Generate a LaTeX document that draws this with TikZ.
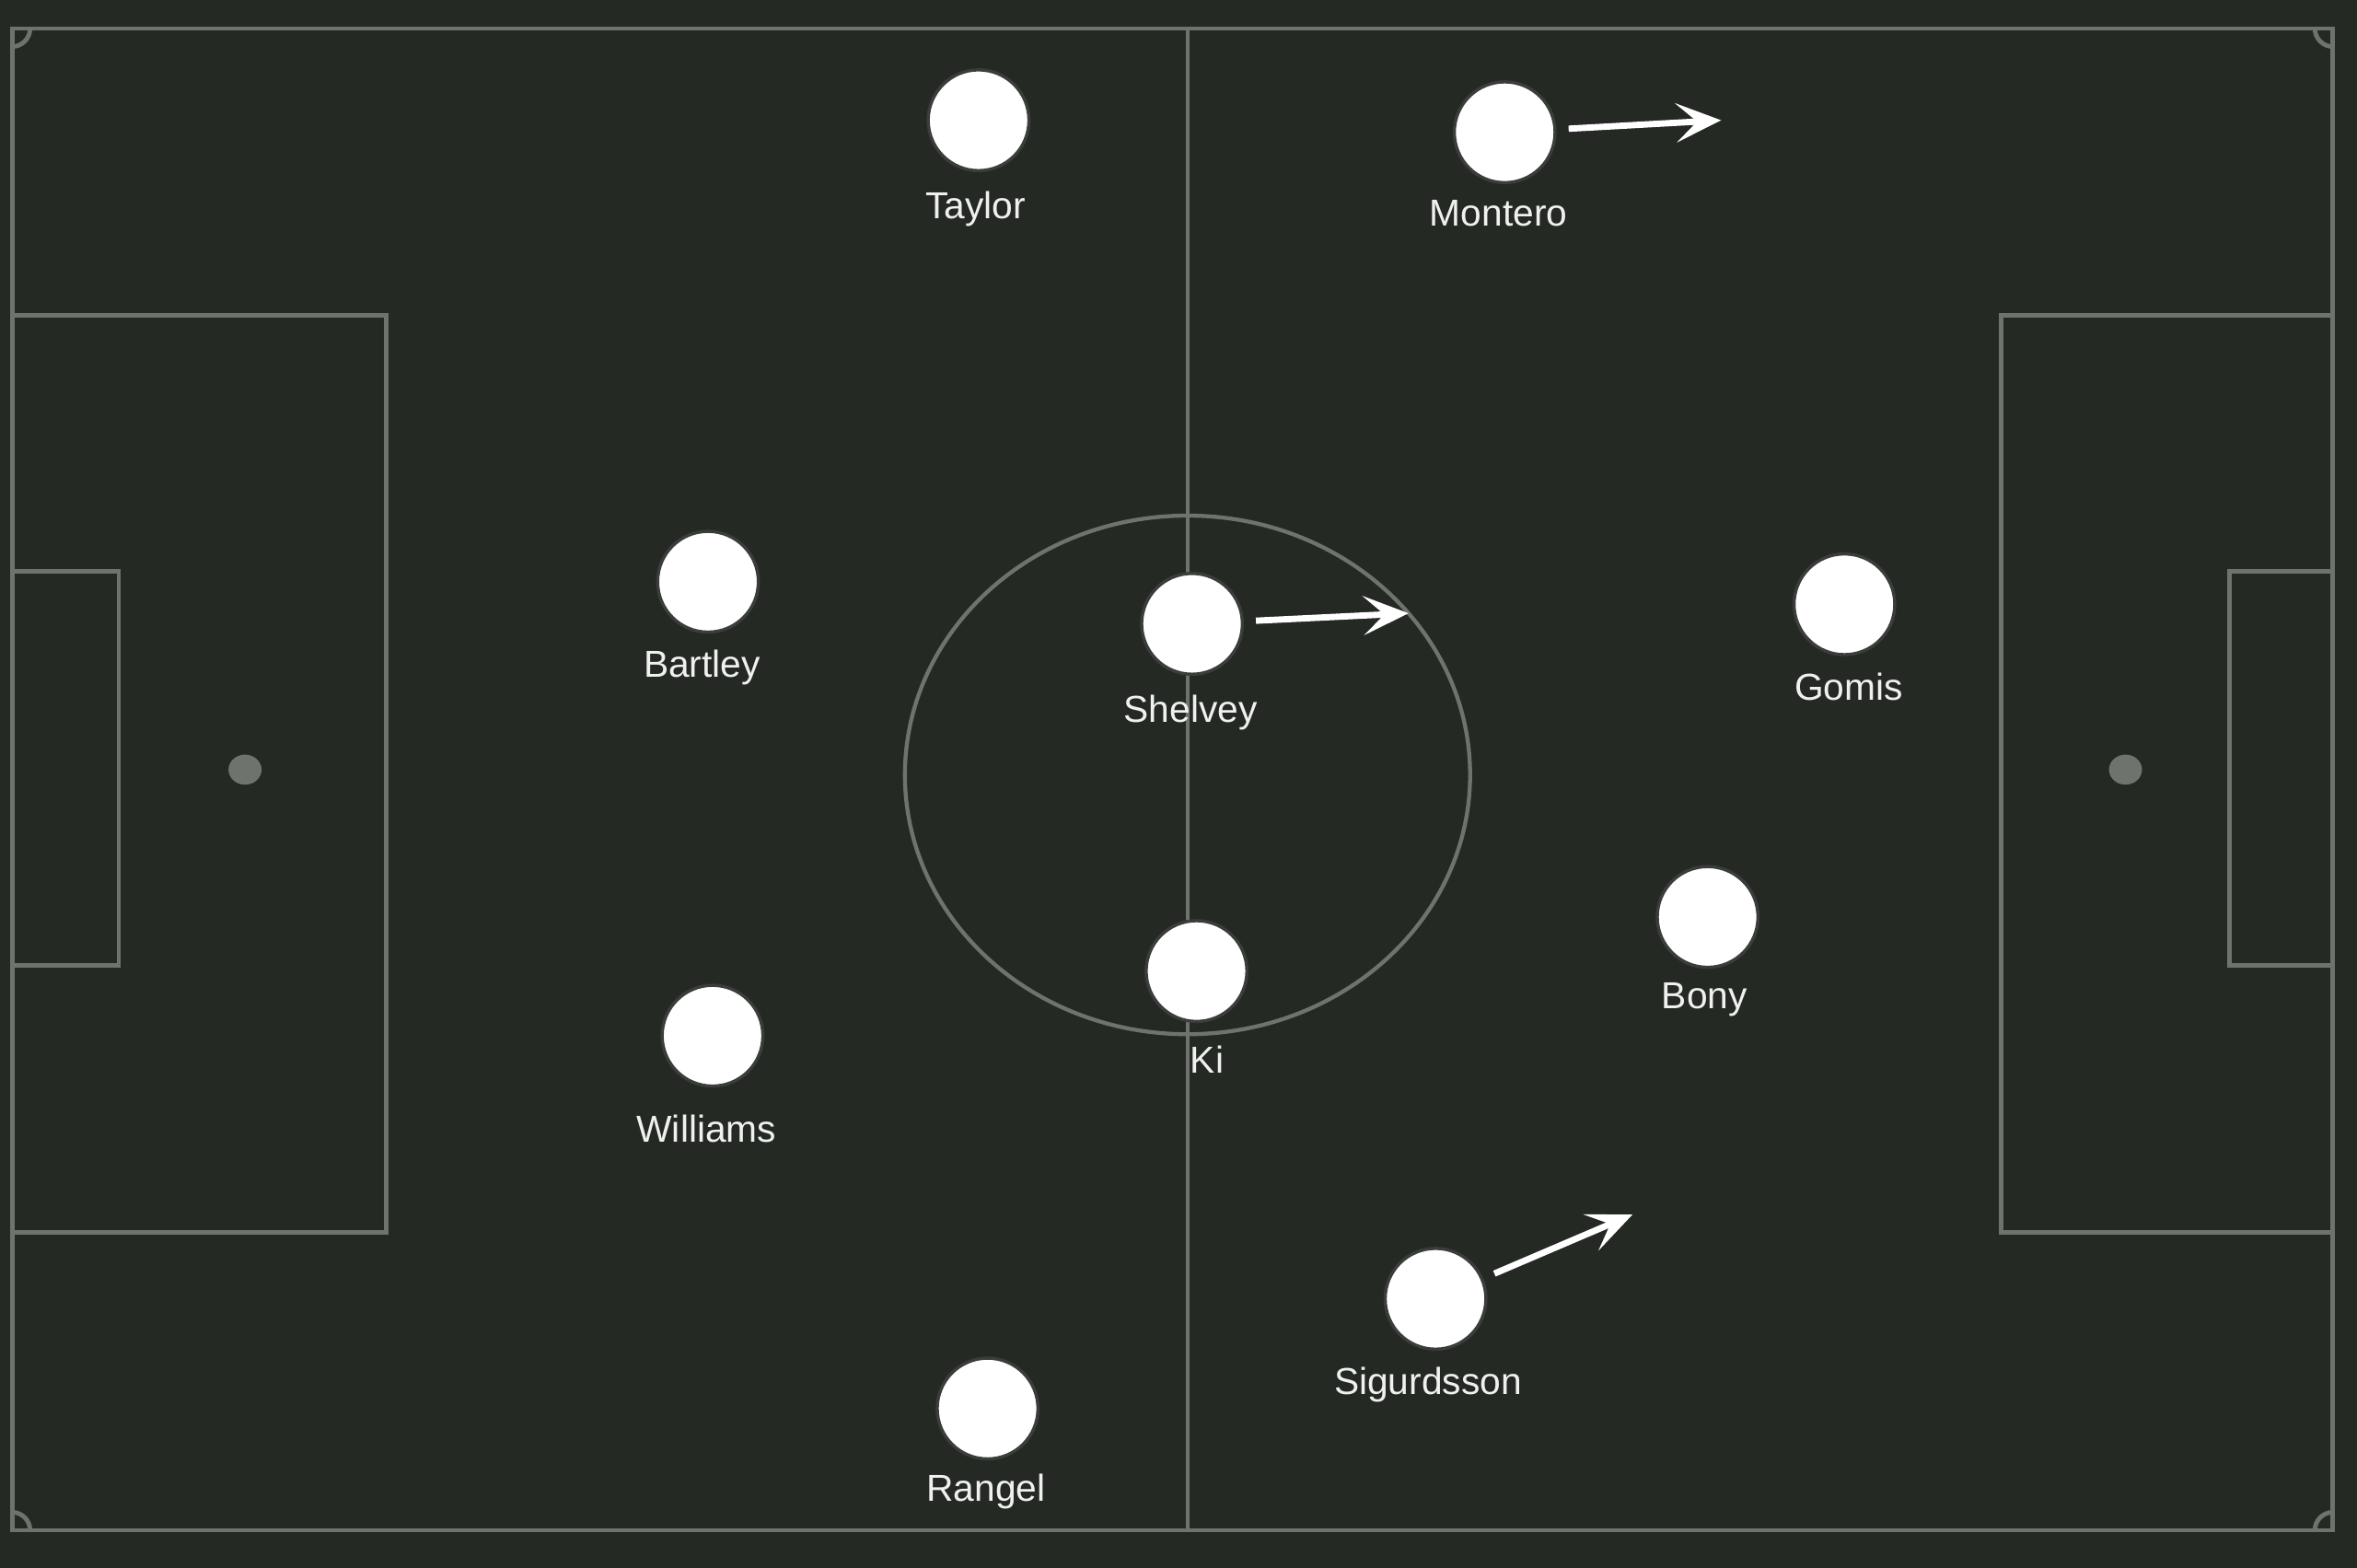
\documentclass[tikz,border=0pt]{standalone}
\usepackage{fontspec}
\setmainfont{Liberation Sans}
\usetikzlibrary{arrows.meta}
\definecolor{pitch}{HTML}{242924}
\definecolor{pline}{HTML}{6E736D}
\definecolor{ring}{HTML}{3A3D3A}
\definecolor{lbl}{HTML}{F0F0F0}
\begin{document}
\begin{tikzpicture}[x={(0.01cm,0)},y={(0,-0.01cm)},
  mark line/.style={draw=pline,line width=0.85pt},
  player/.style={circle,fill=white,draw=ring,line width=0.6pt,minimum size=0.67cm,inner sep=0pt},
  plabel/.style={text=lbl,font=\fontsize{7.1pt}{8pt}\selectfont,inner sep=0pt},
  run/.style={draw=white,line width=1.2pt,shorten <=0.08cm,-{Stealth[length=0.3cm,width=0.26cm,inset=0.14cm]}}]
\fill[pitch] (0,0) rectangle (1568,1043);
\useasboundingbox (0,0) rectangle (1568,1043);
% pitch markings
\draw[mark line] (8,19) rectangle (1552,1018);
\draw[draw=pline,line width=0.6pt] (790,19) -- (790,1018);
\draw[draw=pline,line width=0.75pt] (790,515.5) ellipse [x radius=188,y radius=172.5];
\draw[mark line] (8,210) -- (257,210) -- (257,820) -- (8,820);
\draw[mark line] (8,380) -- (79,380) -- (79,642) -- (8,642);
\draw[mark line] (1552,210) -- (1331,210) -- (1331,820) -- (1552,820);
\draw[mark line] (1552,380) -- (1483,380) -- (1483,642) -- (1552,642);
\fill[pline] (163,512) ellipse [x radius=11,y radius=10];
\fill[pline] (1414,512) ellipse [x radius=11,y radius=10];
% corner arcs
\draw[mark line] (20,19) arc[start angle=0,end angle=-90,radius=0.12cm];
\draw[mark line] (1540,19) arc[start angle=180,end angle=270,radius=0.12cm];
\draw[mark line] (20,1018) arc[start angle=0,end angle=90,radius=0.12cm];
\draw[mark line] (1540,1018) arc[start angle=180,end angle=90,radius=0.12cm];
% players
\node[player] (taylor) at (651,80) {};
\node[plabel] (taylorL) at (649,139) {Taylor};
\node[player] (montero) at (1001,88) {};
\node[plabel] (monteroL) at (997,142) {Montero};
\node[player] (bartley) at (471,387) {};
\node[plabel] (bartleyL) at (467,444) {Bartley};
\node[player] (shelvey) at (793,415) {};
\node[plabel] (shelveyL) at (792,474) {Shelvey};
\node[player] (gomis) at (1227,402) {};
\node[plabel] (gomisL) at (1230,457) {Gomis};
\node[player] (bony) at (1136,610) {};
\node[plabel] (bonyL) at (1134,665) {Bony};
\node[player] (ki) at (796,646) {};
\node[plabel] (kiL) at (803,705) {Ki};
\node[player] (williams) at (474,689) {};
\node[plabel] (williamsL) at (470,751) {Williams};
\node[player] (sigurdsson) at (955,864) {};
\node[plabel] (sigurdssonL) at (950,921) {Sigurdsson};
\node[player] (rangel) at (657,937) {};
\node[plabel] (rangelL) at (656,992) {Rangel};
% runs
\coordinate (monteroT) at (1145,80);
\coordinate (shelveyT) at (937,408);
\coordinate (sigurdssonT) at (1086,808);
\draw[run] (montero) -- (monteroT);
\draw[run] (shelvey) -- (shelveyT);
\draw[run] (sigurdsson) -- (sigurdssonT);
\end{tikzpicture}
\end{document}
